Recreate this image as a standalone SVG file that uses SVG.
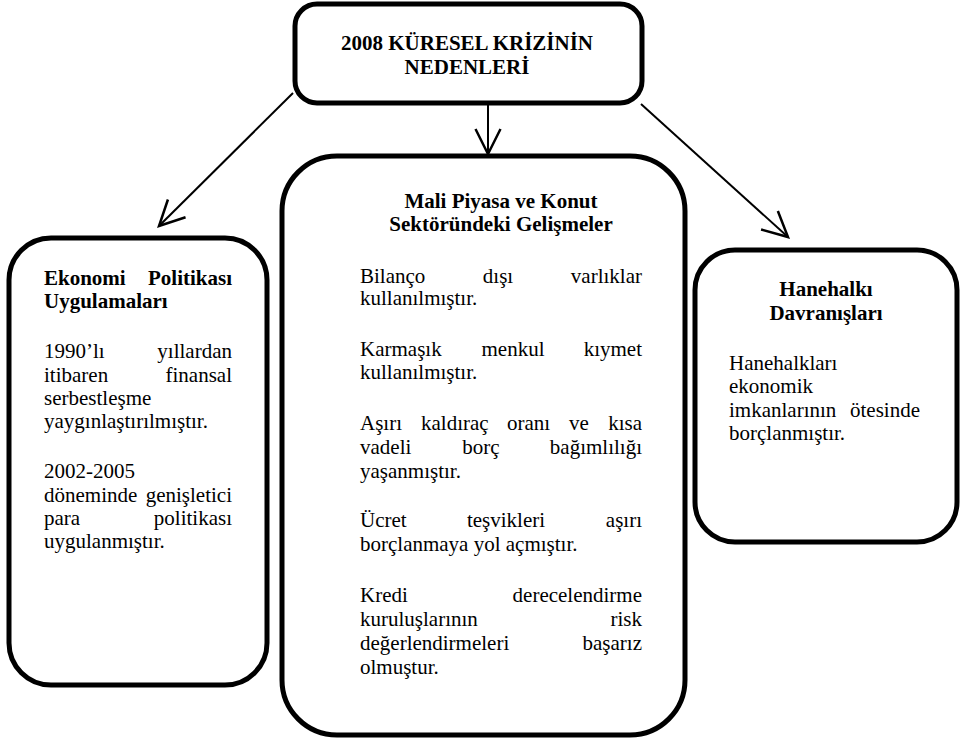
<svg xmlns="http://www.w3.org/2000/svg" width="962" height="740" viewBox="0 0 962 740">
<style>
.box{fill:#fff;stroke:#000;stroke-width:5}
.t{font-family:'Liberation Serif','DejaVu Serif',serif;font-size:21px;fill:#000}
.b{font-weight:bold}
.c{text-anchor:middle}
.e{text-anchor:end}
.con{stroke:#000;stroke-width:2;fill:none}
</style>
<defs>
<marker id="arr" markerUnits="userSpaceOnUse" markerWidth="30" markerHeight="30" viewBox="-22 -12 24 24" refX="0" refY="0" orient="auto">
<path d="M-20,-10 L0,0 L-20,10" fill="none" stroke="#000" stroke-width="2"/>
</marker>
</defs>
<rect width="962" height="740" fill="#fff"/>
<g id="connectors">
<line class="con" x1="293" y1="93" x2="159" y2="226" marker-end="url(#arr)"/>
<line class="con" x1="488" y1="103" x2="488" y2="154" marker-end="url(#arr)"/>
<line class="con" x1="641" y1="104" x2="788" y2="237" marker-end="url(#arr)"/>
</g>
<g id="top">
<rect class="box" x="295" y="4" width="347" height="99" rx="22"/>
<text class="t b c" x="467" y="50">2008 KÜRESEL KRİZİNİN</text>
<text class="t b c" x="467" y="74">NEDENLERİ</text>
</g>
<g id="left">
<rect class="box" x="9" y="238" width="258" height="447" rx="42"/>
<text class="t b" x="44" y="285">Ekonomi</text>
<text class="t b e" x="232" y="285">Politikası</text>
<text class="t b" x="44" y="308">Uygulamaları</text>
<text class="t" x="44" y="358">1990’lı</text>
<text class="t e" x="232" y="358">yıllardan</text>
<text class="t" x="44" y="382">itibaren</text>
<text class="t e" x="232" y="382">finansal</text>
<text class="t" x="44" y="405">serbestleşme</text>
<text class="t" x="44" y="428">yaygınlaştırılmıştır.</text>
<text class="t" x="44" y="478">2002-2005</text>
<text class="t" x="44" y="502">döneminde</text>
<text class="t e" x="232" y="502">genişletici</text>
<text class="t" x="44" y="525">para</text>
<text class="t e" x="232" y="525">politikası</text>
<text class="t" x="44" y="548">uygulanmıştır.</text>
</g>
<g id="middle">
<rect class="box" x="282" y="156" width="403" height="579" rx="55"/>
<text class="t b c" x="501" y="208">Mali Piyasa ve Konut</text>
<text class="t b c" x="501" y="231">Sektöründeki Gelişmeler</text>
<text class="t" x="360" y="283">Bilanço</text>
<text class="t c" x="498" y="283">dışı</text>
<text class="t e" x="642" y="283">varlıklar</text>
<text class="t" x="360" y="305">kullanılmıştır.</text>
<text class="t" x="360" y="356">Karmaşık</text>
<text class="t c" x="513" y="356">menkul</text>
<text class="t e" x="642" y="356">kıymet</text>
<text class="t" x="360" y="379">kullanılmıştır.</text>
<text class="t" y="430"><tspan x="360">Aşırı</tspan><tspan x="421">kaldıraç</tspan><tspan x="507">oranı</tspan><tspan x="569">ve</tspan></text>
<text class="t e" x="642" y="430">kısa</text>
<text class="t" x="360" y="454">vadeli</text>
<text class="t c" x="481" y="454">borç</text>
<text class="t e" x="642" y="454">bağımlılığı</text>
<text class="t" x="360" y="478">yaşanmıştır.</text>
<text class="t" x="360" y="527">Ücret</text>
<text class="t c" x="506" y="527">teşvikleri</text>
<text class="t e" x="642" y="527">aşırı</text>
<text class="t" x="360" y="551">borçlanmaya yol açmıştır.</text>
<text class="t" x="360" y="602">Kredi</text>
<text class="t e" x="642" y="602">derecelendirme</text>
<text class="t" x="360" y="626">kuruluşlarının</text>
<text class="t e" x="642" y="626">risk</text>
<text class="t" x="360" y="650">değerlendirmeleri</text>
<text class="t e" x="642" y="650">başarız</text>
<text class="t" x="360" y="674">olmuştur.</text>
</g>
<g id="right">
<rect class="box" x="695" y="250" width="262" height="292" rx="40"/>
<text class="t b c" x="826" y="296">Hanehalkı</text>
<text class="t b c" x="826" y="320">Davranışları</text>
<text class="t" x="729" y="370">Hanehalkları</text>
<text class="t" x="729" y="393">ekonomik</text>
<text class="t" x="729" y="417">imkanlarının</text>
<text class="t e" x="920" y="417">ötesinde</text>
<text class="t" x="729" y="440">borçlanmıştır.</text>
</g>
</svg>
